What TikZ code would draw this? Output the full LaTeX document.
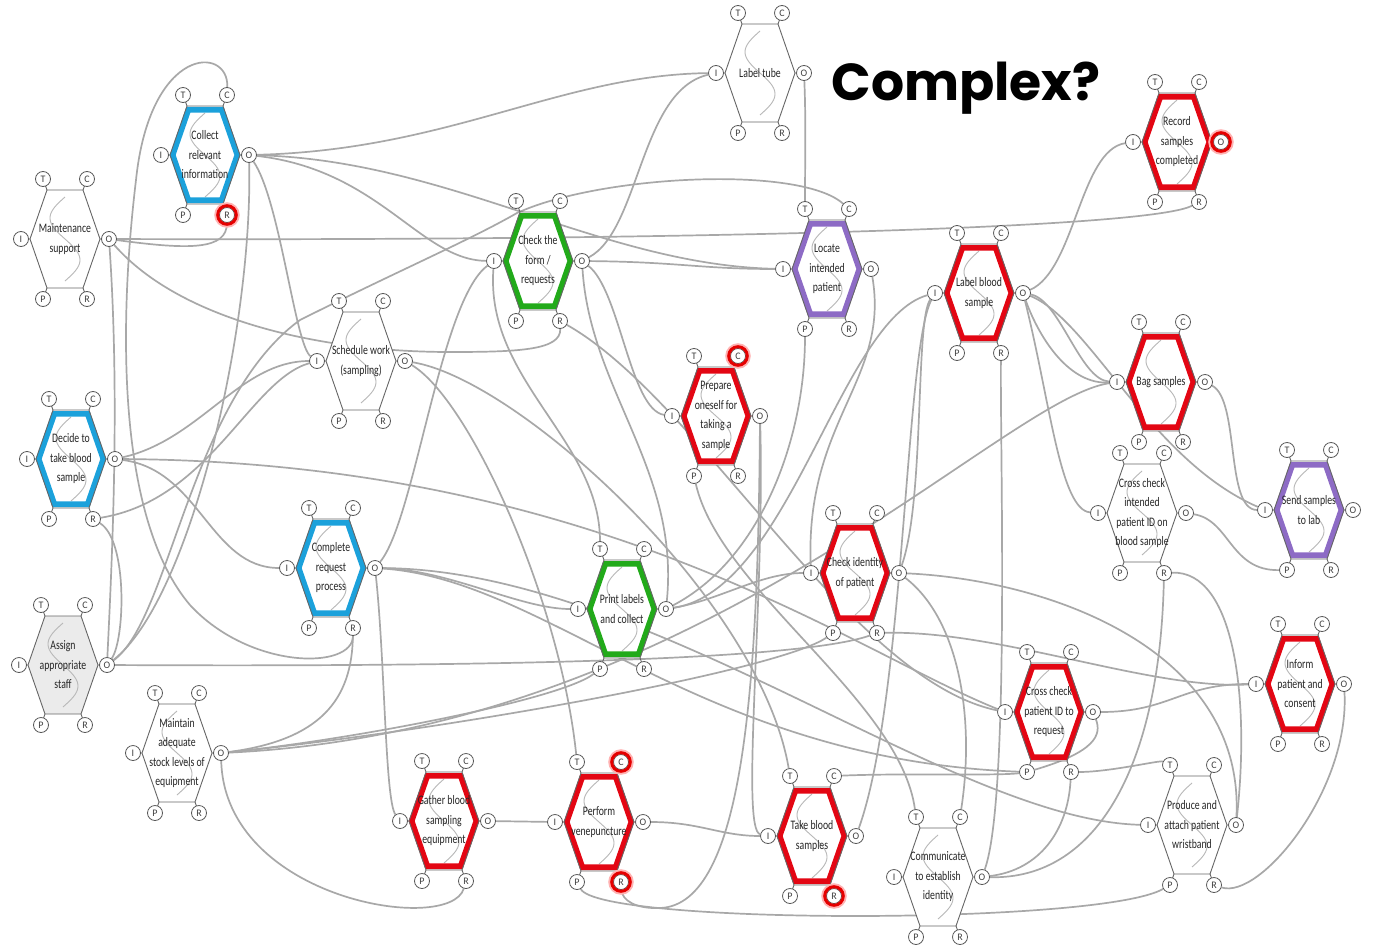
\documentclass[tikz,border=0pt]{standalone}
\usepackage{fontspec}
\newfontfamily\nodefont[FakeStretch=0.75]{Carlito}
\newfontfamily\aspfont{Carlito}
\newfontfamily\titlefont{Poppins}

\definecolor{framblue}{HTML}{1BA1DB}
\definecolor{framgreen}{HTML}{22AA1A}
\definecolor{frampurple}{HTML}{8D6BC5}
\definecolor{framred}{HTML}{E30613}

\pgfdeclarelayer{paper}
\pgfdeclarelayer{links}
\pgfsetlayers{paper,links,main}

\tikzset{
  link/.style={draw=black!34, line width=1.7pt},
  hexline/.style={draw=black!60, line width=0.9pt, line join=miter},
  stub/.style={draw=black!60, line width=0.9pt},
  wave/.style={draw=black!28, line width=0.9pt},
  asp/.style={circle, draw=black!65, fill=white, line width=0.8pt, minimum size=15pt,
    inner sep=0pt, font=\aspfont\fontsize{10}{10}\selectfont, text=black!75},
  ftext/.style={align=center, inner sep=0pt, text=black!85,
    font=\nodefont\fontsize{13}{19.5}\selectfont},
  hlhalo/.style={draw=red!30, line width=2.5pt},
  hlring/.style={draw=red!90!black, line width=3pt},
}

% the six aspect circles of a function, with their stubs
\newcommand{\framaspects}[1]{%
  \draw[stub] (-22,60)--(-18,49) (22,60)--(18,49) (-44,0)--(-35,0)
              (44,0)--(35,0) (-22,-60)--(-18,-49) (22,-60)--(18,-49);
  \node[asp] (#1-T) at (-22,60) {T};
  \node[asp] (#1-C) at (22,60) {C};
  \node[asp] (#1-I) at (-44,0) {I};
  \node[asp] (#1-O) at (44,0) {O};
  \node[asp] (#1-P) at (-22,-60) {P};
  \node[asp] (#1-R) at (22,-60) {R};
}

% function with a coloured band: name, x, y, colour, label
\newcommand{\framcol}[5]{%
  \begin{scope}[shift={(#2,#3)}]
    \fill[white] (-18,49)--(18,49)--(35,0)--(18,-49)--(-18,-49)--(-35,0)--cycle;
    \draw[wave] plot[domain=-42:42,samples=45,smooth] ({-15*sin(4.2857*\x)},\x);
    \draw[#4, line width=5.6pt, line join=miter]
      (-16.6,45.2)--(16.6,45.2)--(32.3,0)--(16.6,-45.2)--(-16.6,-45.2)--(-32.3,0)--cycle;
    \draw[hexline] (-18,49)--(18,49)--(35,0)--(18,-49)--(-18,-49)--(-35,0)--cycle;
    \framaspects{#1}
    \node[ftext] (#1) at (0,0) {#5};
  \end{scope}}

% plain function: name, x, y, fill, label
\newcommand{\framplain}[5]{%
  \begin{scope}[shift={(#2,#3)}]
    \fill[#4] (-18,49)--(18,49)--(35,0)--(18,-49)--(-18,-49)--(-35,0)--cycle;
    \draw[wave] plot[domain=-42:42,samples=45,smooth] ({-15*sin(4.2857*\x)},\x);
    \draw[hexline] (-18,49)--(18,49)--(35,0)--(18,-49)--(-18,-49)--(-35,0)--cycle;
    \framaspects{#1}
    \node[ftext] (#1) at (0,0) {#5};
  \end{scope}}

\newcommand{\hlaspect}[1]{%
  \draw[hlhalo] (#1) circle (11.5);
  \draw[hlring] (#1) circle (9.3);}

\begin{document}
\begin{tikzpicture}[x=1pt,y=1pt]
\useasboundingbox (0,0) rectangle (1375,-947);
\begin{pgfonlayer}{paper}
\fill[white] (0,0) rectangle (1375,-947);
\end{pgfonlayer}

% ---------- functions ----------
\framplain{labeltube}{760}{-73}{white}{Label tube}
\framcol{collect}{205}{-155}{framblue}{Collect\\relevant\\information}
\framplain{maint}{65}{-239}{white}{Maintenance\\support}
\framcol{checkform}{538}{-261}{framgreen}{Check the\\form /\\requests}
\framcol{locate}{827}{-269}{frampurple}{Locate\\intended\\patient}
\framcol{labelblood}{979}{-293}{framred}{Label blood\\sample}
\framcol{record}{1177}{-142}{framred}{Record\\samples\\completed}
\framplain{schedule}{361}{-361}{white}{Schedule work\\(sampling)}
\framcol{prepare}{716}{-416}{framred}{Prepare\\oneself for\\taking a\\sample}
\framcol{bag}{1161}{-382}{framred}{Bag samples}
\framcol{decide}{71}{-459}{framblue}{Decide to\\take blood\\sample}
\framplain{crossint}{1142}{-513}{white}{Cross check\\intended\\patient ID on\\blood sample}
\framcol{send}{1309}{-510}{frampurple}{Send samples\\to lab}
\framcol{complete}{331}{-568}{framblue}{Complete\\request\\process}
\framcol{print}{622}{-609}{framgreen}{Print labels\\and collect}
\framcol{checkid}{855}{-573}{framred}{Check identity\\of patient}
\framplain{assign}{63}{-665}{black!8}{Assign\\appropriate\\staff}
\framplain{maintain}{177}{-753}{white}{Maintain\\adequate\\stock levels of\\equipment}
\framcol{crossid}{1049}{-712}{framred}{Cross check\\patient ID to\\request}
\framcol{inform}{1300}{-684}{framred}{Inform\\patient and\\consent}
\framcol{gather}{444}{-821}{framred}{Gather blood\\sampling\\equipment}
\framcol{perform}{599}{-822}{framred}{Perform\\venepuncture}
\framcol{takeblood}{812}{-836}{framred}{Take blood\\samples}
\framplain{communicate}{938}{-877}{white}{Communicate\\to establish\\identity}
\framplain{produce}{1192}{-825}{white}{Produce and\\attach patient\\wristband}

% highlighted aspects
\hlaspect{collect-R}
\hlaspect{record-O}
\hlaspect{prepare-C}
\hlaspect{perform-C}
\hlaspect{perform-R}
\hlaspect{takeblood-R}

\node[font=\titlefont\bfseries\fontsize{52}{60}\selectfont] (title) at (966,-88) {Complex?};

% ---------- couplings ----------
\begin{pgfonlayer}{links}
% Collect relevant information
\draw[link] (collect-O) .. controls (450,-150) and (560,-75) .. (labeltube-I);
\draw[link] (collect-O) .. controls (450,-160) and (600,-265) .. (locate-I);
\draw[link] (collect-O) .. controls (380,-170) and (420,-260) .. (checkform-I);
\draw[link] (collect-O) .. controls (280,-200) and (295,-345) .. (schedule-I);
\draw[link] (assign-O) .. controls (190,-600) and (253,-330) .. (collect-O);
\draw[link] (collect-C) .. controls (229,-45) and (150,-45) .. (136,-180)
  .. controls (118,-330) and (118,-520) .. (190,-605)
  .. controls (250,-670) and (353,-670) .. (complete-R);
% Maintenance support
\draw[link] (maint-O) .. controls (700,-241) and (1150,-228) .. (record-R);
\draw[link] (maint-O) .. controls (190,-250) and (227,-250) .. (collect-R);
\draw[link] (maint-O) .. controls (180,-320) and (320,-352) .. (450,-352)
  .. controls (520,-352) and (561,-350) .. (checkform-R);
\draw[link] (maint-O) .. controls (120,-400) and (112,-560) .. (assign-O);
% Decide to take blood sample
\draw[link] (decide-O) .. controls (200,-440) and (240,-361) .. (schedule-I);
\draw[link] (decide-O) .. controls (200,-470) and (210,-568) .. (complete-I);
\draw[link] (decide-O) .. controls (600,-462) and (850,-650) .. (crossid-I);
\draw[link] (decide-R) .. controls (210,-500) and (250,-380) .. (schedule-I);
\draw[link] (decide-R) .. controls (128,-540) and (125,-640) .. (assign-O);
% Assign appropriate staff
\draw[link] (assign-O) .. controls (170,-620) and (190,-400) .. (300,-320)
  .. controls (400,-270) and (470,-240) .. (517,-213)
  .. controls (600,-175) and (800,-165) .. (locate-C);
\draw[link] (assign-O) .. controls (500,-667) and (800,-660) .. (checkid-R);
% Complete request process
\draw[link] (complete-O) .. controls (415,-520) and (440,-300) .. (checkform-I);
\draw[link] (complete-O) .. controls (450,-570) and (520,-609) .. (print-I);
\draw[link] (complete-O) .. controls (385,-660) and (385,-800) .. (gather-I);
\draw[link] (complete-O) .. controls (550,-580) and (700,-760) .. (crossid-P);
\draw[link] (complete-O) .. controls (650,-570) and (950,-820) .. (produce-I);
% Check the form / requests
\draw[link] (checkform-O) .. controls (640,-230) and (640,-90) .. (labeltube-I);
\draw[link] (checkform-O) .. controls (680,-262) and (700,-269) .. (locate-I);
\draw[link] (checkform-O) .. controls (620,-290) and (630,-410) .. (prepare-I);
\draw[link] (checkform-O) .. controls (590,-390) and (680,-470) .. (print-O);
\draw[link] (checkform-R) .. controls (700,-400) and (850,-680) .. (crossid-I);
\draw[link] (checkform-I) .. controls (485,-380) and (600,-440) .. (print-T);
% Label tube, Locate intended patient
\draw[link] (labeltube-O) .. controls (806,-120) and (805,-160) .. (locate-T);
\draw[link] (locate-O) .. controls (890,-380) and (805,-420) .. (checkid-I);
% Print labels and collect
\draw[link] (print-O) .. controls (760,-560) and (805,-440) .. (locate-P);
\draw[link] (print-O) .. controls (790,-590) and (840,-320) .. (labelblood-I);
\draw[link] (print-O) .. controls (720,-600) and (760,-573) .. (checkid-I);
% Prepare oneself, Schedule work
\draw[link] (prepare-O) .. controls (765,-600) and (740,-830) .. (takeblood-I);
\draw[link] (prepare-O) .. controls (758,-680) and (745,-905) .. (660,-908)
  .. controls (635,-909) and (622,-900) .. (perform-R);
\draw[link] (prepare-P) .. controls (720,-590) and (900,-700) .. (communicate-T);
\draw[link] (schedule-O) .. controls (470,-400) and (560,-600) .. (perform-T);
\draw[link] (schedule-O) .. controls (520,-380) and (760,-600) .. (takeblood-T);
% Label blood sample
\draw[link] (takeblood-O) .. controls (905,-700) and (905,-350) .. (labelblood-I);
\draw[link] (checkid-O) .. controls (925,-500) and (915,-320) .. (labelblood-I);
\draw[link] (communicate-O) .. controls (1010,-800) and (1000,-450) .. (labelblood-R);
\draw[link] (labelblood-O) .. controls (1075,-270) and (1080,-150) .. (record-I);
\draw[link] (labelblood-O) .. controls (1060,-300) and (1080,-380) .. (bag-I);
\draw[link] (labelblood-O) .. controls (1040,-340) and (1070,-385) .. (bag-I);
\draw[link] (labelblood-O) .. controls (1090,-320) and (1150,-460) .. (send-I);
\draw[link] (labelblood-O) .. controls (1050,-400) and (1060,-510) .. (crossint-I);
% Bag samples, Cross check intended patient ID, Send samples
\draw[link] (maintain-O) .. controls (700,-730) and (1000,-400) .. (bag-I);
\draw[link] (bag-O) .. controls (1240,-400) and (1225,-510) .. (send-I);
\draw[link] (crossint-O) .. controls (1230,-520) and (1230,-571) .. (send-P);
\draw[link] (communicate-O) .. controls (1100,-880) and (1160,-760) .. (crossint-R);
\draw[link] (crossint-R) .. controls (1235,-570) and (1250,-700) .. (produce-O);
% Check identity of patient
\draw[link] (checkid-O) .. controls (1050,-580) and (1245,-650) .. (produce-O);
\draw[link] (checkid-O) .. controls (960,-620) and (975,-720) .. (communicate-C);
\draw[link] (checkid-R) .. controls (1000,-630) and (1150,-690) .. (inform-I);
% Cross check patient ID, Inform patient, Produce wristband
\draw[link] (crossid-O) .. controls (1170,-712) and (1180,-684) .. (inform-I);
\draw[link] (crossid-O) .. controls (1102,-735) and (1095,-752) .. (crossid-P);
\draw[link] (crossid-R) .. controls (1110,-772) and (1160,-760) .. (produce-T);
\draw[link] (takeblood-C) .. controls (900,-773) and (1000,-776) .. (crossid-P);
\draw[link] (communicate-O) .. controls (1040,-870) and (1068,-830) .. (crossid-R);
\draw[link] (inform-O) .. controls (1350,-790) and (1260,-900) .. (produce-R);
% Maintain adequate stock levels
\draw[link] (maintain-O) .. controls (350,-740) and (560,-700) .. (print-P);
\draw[link] (maintain-O) .. controls (450,-730) and (780,-670) .. (checkid-P);
\draw[link] (maintain-O) .. controls (225,-900) and (450,-935) .. (gather-R);
\draw[link] (maintain-O) .. controls (320,-740) and (352,-700) .. (complete-R);
% Gather, Perform, Take blood
\draw[link] (gather-O) -- (perform-I);
\draw[link] (perform-O) .. controls (700,-822) and (720,-836) .. (takeblood-I);
\draw[link] (perform-P) .. controls (600,-925) and (1100,-925) .. (produce-P);
\end{pgfonlayer}
\end{tikzpicture}
\end{document}
